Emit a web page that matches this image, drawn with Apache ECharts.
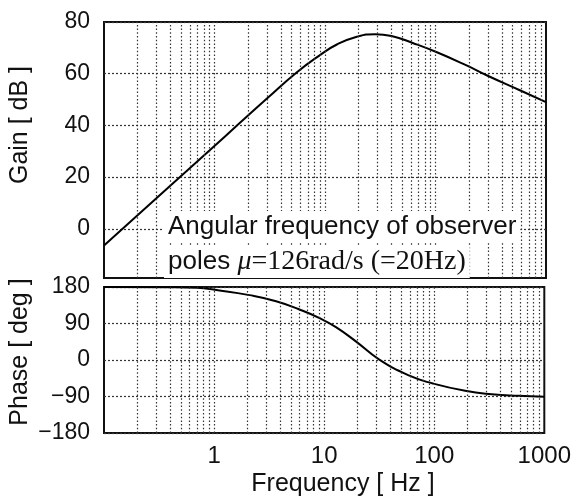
<!DOCTYPE html>
<html>
<head>
<meta charset="utf-8">
<script src="https://cdn.jsdelivr.net/npm/echarts@6/dist/echarts.min.js"></script>
<style>
html, body { margin: 0; padding: 0; background: #fff; }
#chart_bode { width: 574px; height: 500px; }
</style>
</head>
<body>
<div id="chart_bode"></div>
<script>
// gain curve (Hz, dB)
var gainFreq = [0.1, 0.2, 0.4, 0.9, 1.7, 3, 5.5, 9, 12.8, 19.4, 28.3, 40, 63, 103, 191, 290, 580, 1000];
var gainDb = [-6.4, 5.2, 16.8, 30.3, 41.0, 50.5, 60.4, 67.2, 71.3, 74.3, 75.3, 74.6, 71.8, 68.3, 63.2, 59.4, 53.6, 49];

// phase curve (Hz, deg)
var phaseFreq = [0.1, 0.4, 0.7, 1.05, 2.1, 3.66, 5.9, 9.3, 12.8, 19.4, 31.7, 59.5, 97, 191, 333, 580, 1000];
var phaseDeg = [180, 179.5, 178, 172.5, 160, 145, 125, 102, 81, 46, 1, -38.7, -57.8, -75.9, -84.3, -88.3, -90.5];

// tick labels
var gainTicks = [0, 20, 40, 60, 80];
var freqLabels = [1, 10, 100, 1000];
// dotted vertical grid lines
var freqGrid = [0.2, 0.3, 0.4, 0.5, 0.6, 0.7, 0.8, 0.9, 1,
    2, 3, 4, 5, 6, 7, 8, 9, 10,
    20, 30, 40, 50, 60, 70, 80, 90, 100,
    200, 300, 400, 500, 600, 700, 800, 900];

var chart = echarts.init(document.getElementById('chart_bode'));

var pairs = function (xs, ys) {
    var out = [];
    for (var i = 0; i < xs.length; i++) {
        out.push([xs[i], ys[i]]);
    }
    return out;
};

// markLine used as the dotted log grid
var vGrid = function () {
    return {
        silent: true,
        symbol: ['none', 'none'],
        label: { show: false },
        emphasis: { disabled: true },
        animation: false,
        lineStyle: { color: '#333', type: [1.5, 2.2], width: 1.2 },
        data: freqGrid.map(function (f) { return { xAxis: f }; })
    };
};

var sans = 'Liberation Sans';

var option = {
    animation: false,
    grid: [
        { left: 104, right: 28, top: 22, height: 256, show: true, borderColor: '#111', borderWidth: 2, backgroundColor: 'transparent' },
        { left: 104, right: 28, top: 287, height: 146, show: true, borderColor: '#111', borderWidth: 2, backgroundColor: 'transparent' }
    ],
    xAxis: [
        {
            gridIndex: 0, type: 'log', logBase: 10, min: 0.1, max: 1000,
            axisLine: { show: false }, axisTick: { show: false },
            axisLabel: { show: false }, splitLine: { show: false }
        },
        {
            gridIndex: 1, type: 'log', logBase: 10, min: 0.1, max: 1000,
            axisLine: { show: false }, axisTick: { show: false },
            splitLine: { show: false },
            axisLabel: {
                margin: 11, color: '#111', fontFamily: sans, fontSize: 24,
                formatter: function (v) {
                    var r = Math.round(v);
                    return freqLabels.indexOf(r) >= 0 && v >= 0.5 ? String(r) : '';
                }
            }
        }
    ],
    yAxis: [
        {
            gridIndex: 0, type: 'value', min: -19, max: 80,
            axisLine: { show: false },
            axisTick: { show: false, customValues: gainTicks },
            axisLabel: { customValues: gainTicks, margin: 14, color: '#111', fontFamily: sans, fontSize: 23 },
            splitLine: { show: true, lineStyle: { color: '#333', type: [2, 2], width: 1.2 } }
        },
        {
            gridIndex: 1, type: 'value', min: -180, max: 180, interval: 90,
            axisLine: { show: false },
            axisTick: { show: false },
            axisLabel: {
                margin: 14, color: '#111', fontFamily: sans, fontSize: 23,
                formatter: function (v) { return v < 0 ? '\u2212' + Math.abs(v) : String(v); }
            },
            splitLine: { show: true, lineStyle: { color: '#333', type: [2, 2], width: 1.2 } }
        }
    ],
    series: [
        {
            type: 'line', xAxisIndex: 0, yAxisIndex: 0,
            data: pairs(gainFreq, gainDb),
            smooth: 0.5, showSymbol: false, silent: true,
            lineStyle: { color: '#000', width: 2 },
            markLine: vGrid()
        },
        {
            type: 'line', xAxisIndex: 1, yAxisIndex: 1,
            data: pairs(phaseFreq, phaseDeg),
            smooth: 0.5, showSymbol: false, silent: true,
            lineStyle: { color: '#000', width: 2 },
            markLine: vGrid()
        }
    ],
    graphic: [
        {
            type: 'text', x: 20, y: 125, rotation: Math.PI / 2,
            style: { text: 'Gain [ dB ]', font: '25px "Liberation Sans"', fill: '#111', align: 'center', verticalAlign: 'middle' }
        },
        {
            type: 'text', x: 20, y: 352, rotation: Math.PI / 2,
            style: { text: 'Phase [ deg ]', font: '25px "Liberation Sans"', fill: '#111', align: 'center', verticalAlign: 'middle' }
        },
        {
            type: 'text', x: 343, y: 484,
            style: { text: 'Frequency [ Hz ]', font: '25px "Liberation Sans"', fill: '#111', align: 'center', verticalAlign: 'middle' }
        },
        {
            type: 'text', x: 164, y: 227, z: 50,
            style: {
                text: 'Angular frequency of observer',
                font: '26px "Liberation Sans"', fill: '#111',
                align: 'left', verticalAlign: 'middle',
                backgroundColor: '#fff', padding: [3, 4, 3, 4]
            }
        },
        {
            type: 'text', x: 164, y: 262, z: 50,
            style: {
                text: '{s|poles }{mu|\u03bc}{t|=126rad/s (=20Hz)}',
                align: 'left', verticalAlign: 'middle',
                backgroundColor: '#fff', padding: [2, 4, 2, 4],
                rich: {
                    s: { fontFamily: sans, fontSize: 26, fill: '#111' },
                    mu: { fontFamily: 'Liberation Serif', fontStyle: 'italic', fontSize: 28, fill: '#111' },
                    t: { fontFamily: 'Liberation Serif', fontSize: 28, fill: '#111' }
                }
            }
        }
    ]
};

chart.setOption(option);
</script>
</body>
</html>
